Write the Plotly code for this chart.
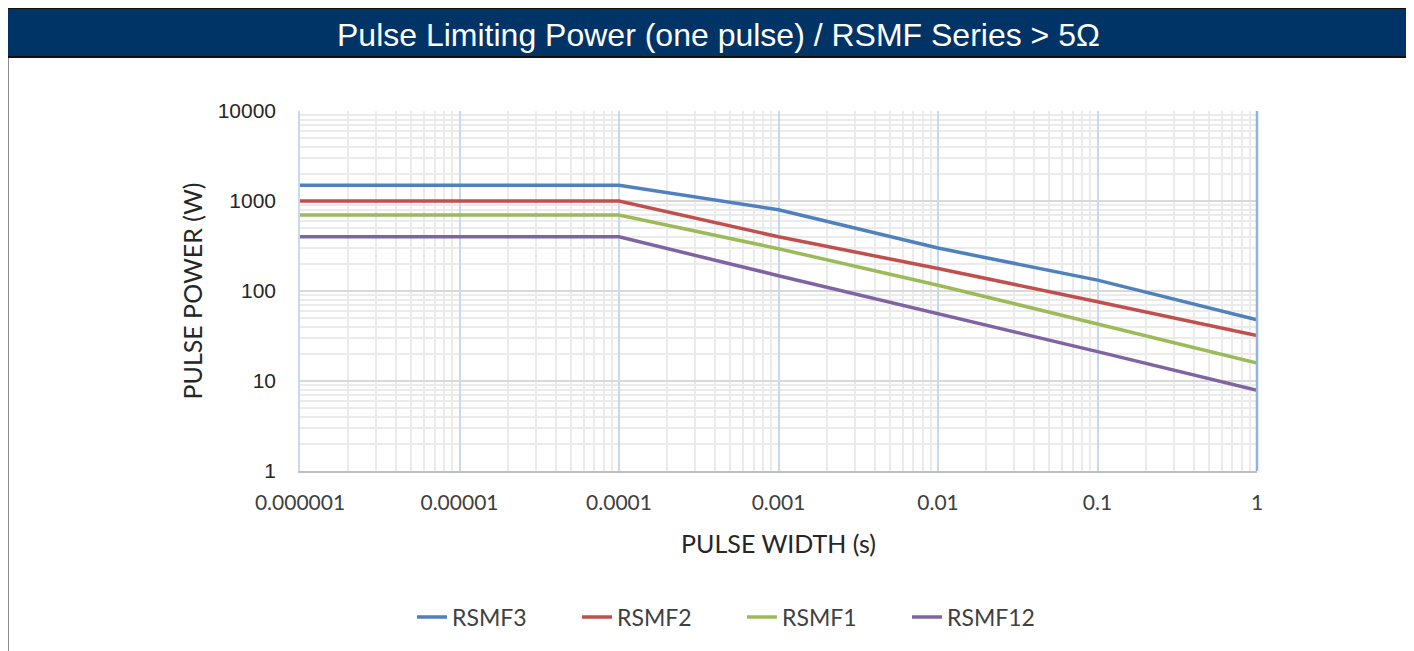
import plotly.graph_objects as go

# ---------------- data ----------------
pulse_width = [0.000001, 0.0001, 0.001, 0.01, 0.1, 1]
rsmf3 = [1500, 1500, 800, 300, 132, 48]
rsmf2 = [1000, 1000, 400, 178, 76, 32]
rsmf1 = [700, 700, 295, 116, 43, 15.8]
rsmf12 = [400, 400, 148, 56.5, 21.2, 7.9]

series_names = ["RSMF3", "RSMF2", "RSMF1", "RSMF12"]
series_values = [rsmf3, rsmf2, rsmf1, rsmf12]
series_colors = ["#4F81BD", "#C0504D", "#9BBB59", "#8064A2"]

x_tick_vals = [0.000001, 0.00001, 0.0001, 0.001, 0.01, 0.1, 1]
x_tick_text = ["0.000001", "0.00001", "0.0001", "0.001", "0.01", "0.1", "1"]
y_tick_vals = [1, 10, 100, 1000, 10000]
y_tick_text = ["1", "10", "100", "1000", "10000"]

x_minor = [m * 10.0 ** e for e in range(-6, 0) for m in range(2, 10)]
y_minor = [m * 10.0 ** e for e in range(0, 4) for m in range(2, 10)]

# ---------------- layout geometry (screen pixels; page body has 8px margin) ----------------
OFF = 8
W, H = 1414 - OFF, 651 - OFF
L, T, R, B = 300, 111, 1257, 471          # plot area in screenshot pixels
PW, PH = R - L, B - T


def px_x(px):
    return (px - L) / PW


def px_y(py):
    return (B - py) / PH


fig = go.Figure()
for name, vals, col in zip(series_names, series_values, series_colors):
    fig.add_trace(go.Scatter(
        x=pulse_width, y=vals, name=name, mode="lines",
        line=dict(color=col, width=3.5),
    ))

calibri_like = "Lato, 'Open Sans', sans-serif"

fig.update_layout(
    width=W, height=H,
    margin=dict(l=L - OFF, r=(W + OFF) - R, t=T - OFF, b=(H + OFF) - B, autoexpand=False),
    paper_bgcolor="white", plot_bgcolor="white",
    showlegend=True,
    legend=dict(
        orientation="h", x=px_x(742), y=px_y(617),
        xanchor="center", yanchor="middle",
        font=dict(family=calibri_like, size=23, color="#404040"),
        entrywidth=120, entrywidthmode="pixels",
        bgcolor="rgba(0,0,0,0)",
    ),
    xaxis=dict(
        type="log", range=[-6, 0],
        tickmode="array", tickvals=x_tick_vals, ticktext=x_tick_text,
        ticks="", ticklabelstandoff=12,
        tickfont=dict(family=calibri_like, size=21, color="#404040"),
        showgrid=True, gridcolor="#C6D9F0", gridwidth=1.5,
        minor=dict(tickmode="array", tickvals=x_minor, showgrid=True,
                   gridcolor="#EBEBEB", gridwidth=1.5, ticks=""),
        showline=True, linecolor="#BFBFBF", linewidth=2,
        zeroline=False,
        title=dict(text="PULSE WIDTH (s)", standoff=22,
                   font=dict(family=calibri_like, size=25, color="#262626")),
    ),
    yaxis=dict(
        type="log", range=[0, 4],
        tickmode="array", tickvals=y_tick_vals, ticktext=y_tick_text,
        ticks="", ticklabelstandoff=18,
        tickfont=dict(family="Liberation Sans, Arial, sans-serif", size=21, color="#262626"),
        showgrid=True, gridcolor="#D9D9D9", gridwidth=1.5,
        minor=dict(tickmode="array", tickvals=y_minor, showgrid=True,
                   gridcolor="#EBEBEB", gridwidth=1.5, ticks=""),
        showline=True, linecolor="#C6D9F0", linewidth=1.5,
        zeroline=False,
        title=dict(text="PULSE POWER (W)", standoff=8,
                   font=dict(family=calibri_like, size=25, color="#262626")),
    ),
    shapes=[
        # header bar
        dict(type="rect", xref="paper", yref="paper",
             x0=px_x(7), x1=px_x(1414 + 5), y0=px_y(57), y1=px_y(8),
             fillcolor="#003366", line=dict(color="#111111", width=2), layer="above"),
        # left frame line
        dict(type="line", xref="paper", yref="paper",
             x0=px_x(8), x1=px_x(8), y0=px_y(58), y1=px_y(660),
             line=dict(color="#8C8C8C", width=2)),
        # right edge of plot area
        dict(type="line", xref="x domain", yref="y domain",
             x0=1, x1=1, y0=0, y1=1,
             line=dict(color="#8DB4E2", width=2.5)),
    ],
    annotations=[
        dict(text="Pulse Limiting Power (one pulse) / RSMF Series > 5Ω",
             xref="paper", yref="paper", x=px_x(718), y=px_y(35),
             xanchor="center", yanchor="middle", showarrow=False,
             font=dict(family="Liberation Sans, Arial, sans-serif", size=32, color="white")),
    ],
)

fig.write_html("out.html")
